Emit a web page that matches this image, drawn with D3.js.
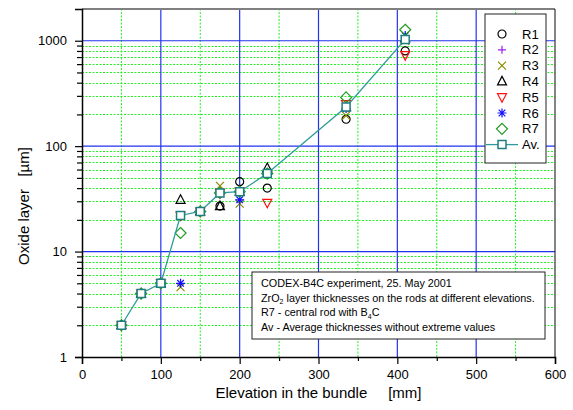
<!DOCTYPE html>
<html>
<head>
<meta charset="utf-8">
<script src="https://cdn.jsdelivr.net/npm/d3@7"></script>
<style>
  body { margin: 0; background: #fff; }
  svg { font-family: "Liberation Sans", Arial, sans-serif; }
</style>
</head>
<body>
<div id="chart"></div>
<script>
// Elevations [mm] and oxide layer thickness [µm] per rod
const elevations = [50, 75, 100, 125, 150, 175, 200, 235, 335, 410];
const r1 = [2, 4, 5, 22, 24, 27, 46, 40, 180, 800];
const r2 = [2, 4, 5, 22, 24, 36, 37, 55, 235, 1050];
const r3 = [2, 4, 5, 4.6, 24, 42, 28.5, 55, 195, 1000];
const r4 = [2, 4, 5, 31, 24, 27, 37, 62, 235, 1050];
const r5 = [2, 4, 5, 22, 24, 36, 37, 29, 250, 730];
const r6 = [2, 4, 5, 5, 24, 36, 31, 55, 228, 1120];
const r7 = [2, 4, 5, 15, 24, 36, 37, 55, 290, 1270];
const av = [2, 4, 5, 22, 24, 36, 37, 55, 235, 1030];

const xTicks = [0, 100, 200, 300, 400, 500, 600];
const yTicks = [1, 10, 100, 1000];

const noteLines = [
    ["CODEX-B4C experiment, 25. May 2001"],
    ["ZrO", "2", " layer thicknesses on the rods at different elevations."],
    ["R7 - central rod with B", "4", "C"],
    ["Av - Average thicknesses without extreme values"]
];

const width = 573, height = 410;
const margin = { top: 9, right: 18, bottom: 53, left: 82 };

const svg = d3.select('#chart')
    .append('svg')
    .attr('width', width)
    .attr('height', height);

const xScale = d3.scaleLinear()
    .domain([0, 600])
    .range([margin.left, width - margin.right]);

const yScale = d3.scaleLog()
    .domain([1, 2000])
    .range([height - margin.bottom, margin.top]);

const x0 = margin.left, x1 = width - margin.right;
const y0 = height - margin.bottom, y1 = margin.top;

// minor grid (green dotted)
const xMinor = d3.range(50, 600, 100);
const yMinor = [];
[1, 10, 100, 1000].forEach(d => {
    for (let k = 2; k <= 9; k++) if (d * k < 2000) yMinor.push(d * k);
});

const grid = svg.append('g');
grid.selectAll('.xm').data(xMinor).enter().append('line')
    .attr('x1', d => xScale(d)).attr('x2', d => xScale(d))
    .attr('y1', y0).attr('y2', y1)
    .attr('stroke', '#22ee22').attr('stroke-width', 1)
    .attr('stroke-dasharray', '2,1.5');
grid.selectAll('.ym').data(yMinor).enter().append('line')
    .attr('x1', x0).attr('x2', x1)
    .attr('y1', d => Math.round(yScale(d)) + 0.5).attr('y2', d => Math.round(yScale(d)) + 0.5)
    .attr('stroke', '#22ee22').attr('stroke-width', 1)
    .attr('stroke-dasharray', '2,1.5');

// major grid (blue)
grid.selectAll('.xM').data(xTicks.slice(1, -1)).enter().append('line')
    .attr('x1', d => xScale(d)).attr('x2', d => xScale(d))
    .attr('y1', y0).attr('y2', y1)
    .attr('stroke', '#2233ee').attr('stroke-width', 1.2);
grid.selectAll('.yM').data(yTicks.slice(1)).enter().append('line')
    .attr('x1', x0).attr('x2', x1)
    .attr('y1', d => yScale(d)).attr('y2', d => yScale(d))
    .attr('stroke', '#2233ee').attr('stroke-width', 1.2);

// frame
svg.append('line').attr('x1', x0).attr('x2', x1).attr('y1', y1).attr('y2', y1)
    .attr('stroke', '#808080').attr('stroke-width', 2);
svg.append('line').attr('x1', x1).attr('x2', x1).attr('y1', y1).attr('y2', y0)
    .attr('stroke', '#333').attr('stroke-width', 1.2);

// axes
svg.append('g')
    .attr('transform', `translate(0,${y0})`)
    .call(d3.axisBottom(xScale).tickValues(xTicks).tickSize(7).tickPadding(6).tickFormat(d3.format('d')));
svg.append('g')
    .attr('transform', `translate(0,${y0})`)
    .call(d3.axisBottom(xScale).tickValues(xMinor).tickSize(4).tickFormat(''))
    .select('.domain').remove();

svg.append('g')
    .attr('transform', `translate(${x0},0)`)
    .call(d3.axisLeft(yScale).tickValues(yTicks).tickSize(7).tickPadding(8).tickFormat(d3.format('d')));
svg.append('g')
    .attr('transform', `translate(${x0},0)`)
    .call(d3.axisLeft(yScale).tickValues(yMinor).tickSize(5).tickFormat(''))
    .select('.domain').remove();

svg.selectAll('.domain').attr('stroke', '#000').attr('stroke-width', 1.5);
svg.selectAll('.tick line').attr('stroke', '#000').attr('stroke-width', 1.2);
svg.selectAll('.tick text').attr('font-size', 13).attr('fill', '#000')
    .attr('font-family', '"Liberation Sans", Arial, sans-serif');

// axis titles
svg.append('text')
    .attr('x', (x0 + x1) / 2)
    .attr('y', 398)
    .attr('text-anchor', 'middle')
    .attr('font-size', 15)
    .style('white-space', 'pre')
    .text('Elevation in the bundle     [mm]');

svg.append('text')
    .attr('transform', 'translate(29,206) rotate(-90)')
    .attr('text-anchor', 'middle')
    .attr('font-size', 15)
    .style('white-space', 'pre')
    .text('Oxide layer   [µm]');

// marker shapes
const shapes = {
    circle: 'M4,0A4,4 0 1,1 -4,0A4,4 0 1,1 4,0Z',
    plus: 'M-4,0H4M0,-4V4',
    cross: 'M-4,-4L4,4M-4,4L4,-4',
    triUp: 'M0,-5L4.5,3.5L-4.5,3.5Z',
    triDown: 'M0,5L4.5,-3.5L-4.5,-3.5Z',
    star: 'M-4.5,0H4.5M0,-4.5V4.5M-3.3,-3.3L3.3,3.3M-3.3,3.3L3.3,-3.3',
    diamond: 'M0,-5.5L5.5,0L0,5.5L-5.5,0Z',
    square: 'M-4,-4H4V4H-4Z'
};

const series = [
    { name: 'R1', values: r1, shape: 'circle', color: '#000000' },
    { name: 'R2', values: r2, shape: 'plus', color: '#9922ee' },
    { name: 'R3', values: r3, shape: 'cross', color: '#8a8a00' },
    { name: 'R4', values: r4, shape: 'triUp', color: '#000000' },
    { name: 'R5', values: r5, shape: 'triDown', color: '#ff1111' },
    { name: 'R6', values: r6, shape: 'star', color: '#1111ff' },
    { name: 'R7', values: r7, shape: 'diamond', color: '#229922' }
];
const avColor = '#2e9a9a';

series.forEach(s => {
    svg.append('g').selectAll('path')
        .data(elevations.map((e, i) => [e, s.values[i]]))
        .enter().append('path')
        .attr('transform', d => `translate(${xScale(d[0])},${yScale(d[1])})`)
        .attr('d', shapes[s.shape])
        .attr('fill', 'none')
        .attr('stroke', s.color)
        .attr('stroke-width', 1.2);
});

// average line with square markers
const avData = elevations.map((e, i) => [e, av[i]]);
const line = d3.line()
    .x(d => xScale(d[0]))
    .y(d => yScale(d[1]));

svg.append('path')
    .datum(avData)
    .attr('fill', 'none')
    .attr('stroke', avColor)
    .attr('stroke-width', 1.3)
    .attr('d', line);

svg.append('g').selectAll('path')
    .data(avData)
    .enter().append('path')
    .attr('transform', d => `translate(${xScale(d[0])},${yScale(d[1])})`)
    .attr('d', shapes.square)
    .attr('fill', '#fff')
    .attr('stroke', '#1f7f80')
    .attr('stroke-width', 1.5);

// legend
const legend = svg.append('g');
legend.append('rect')
    .attr('x', 485).attr('y', 14)
    .attr('width', 61).attr('height', 149)
    .attr('fill', '#fff').attr('stroke', '#222').attr('stroke-width', 1);

const legendItems = legend.selectAll('g.item')
    .data(series.concat([{ name: 'Av.', shape: 'square', color: '#1f7f80' }]))
    .enter().append('g')
    .attr('transform', (d, i) => `translate(502,${34 + i * 15.8})`);

legendItems.filter(d => d.name === 'Av.').append('line')
    .attr('x1', -16).attr('x2', 16)
    .attr('stroke', avColor).attr('stroke-width', 1.3);

legendItems.append('path')
    .attr('d', d => shapes[d.shape])
    .attr('fill', d => d.name === 'Av.' ? '#fff' : 'none')
    .attr('stroke', d => d.color)
    .attr('stroke-width', d => d.name === 'Av.' ? 1.5 : 1.2);

legendItems.append('text')
    .attr('x', 20)
    .attr('y', 4.5)
    .attr('font-size', 13)
    .text(d => d.name);

// annotation box
const note = svg.append('g');
note.append('rect')
    .attr('x', 252).attr('y', 272)
    .attr('width', 293).attr('height', 67)
    .attr('fill', '#fff').attr('stroke', '#222').attr('stroke-width', 1);

noteLines.forEach((parts, i) => {
    const t = note.append('text')
        .attr('x', 261)
        .attr('y', 287 + i * 14.5)
        .attr('font-size', 10.8);
    parts.forEach((p, j) => {
        const sub = j === 1;
        t.append('tspan')
            .attr('font-size', sub ? 7 : 10.8)
            .attr('dy', sub ? 2.5 : (j === 2 ? -2.5 : 0))
            .style('white-space', 'pre')
            .text(p);
    });
});
</script>
</body>
</html>
